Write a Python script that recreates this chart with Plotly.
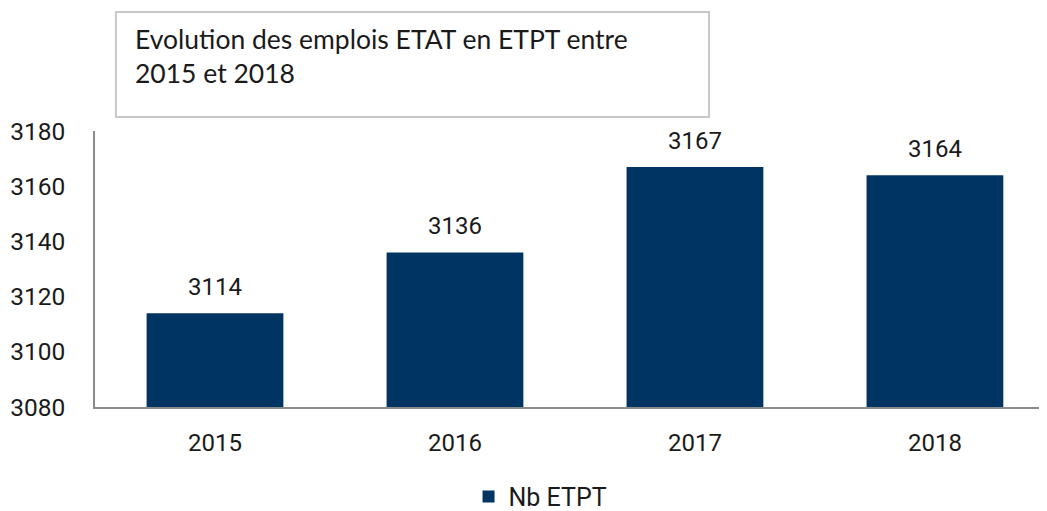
import plotly.graph_objects as go

# data
years = ["2015", "2016", "2017", "2018"]
etpt = [3114, 3136, 3167, 3164]
series_name = "Nb ETPT"
title_text = "Evolution des emplois ETAT en ETPT entre<br>2015 et 2018"

fig = go.Figure()
fig.add_bar(
    x=years, y=etpt, name=series_name,
    marker=dict(color="#003462", line=dict(width=0)),
    width=0.57,
)

# value labels above bars (category index on x)
for i, v in enumerate(etpt):
    fig.add_annotation(x=i, y=v, text=str(v), showarrow=False,
                       yanchor="bottom", yshift=10,
                       font=dict(family="Roboto", size=24, color="#1a1a1a"))

# title box text
fig.add_annotation(text=title_text, xref="paper", yref="paper",
                   x=0.040, y=1.40, xanchor="left", yanchor="top", align="left",
                   showarrow=False,
                   font=dict(family="Lato", size=26.5, weight="normal", color="#1a1a1a"))

# page body has an 8px margin, so the figure is 8px smaller
fig.update_layout(
    width=1039, height=503,
    margin=dict(l=87, r=0, t=123, b=104, autoexpand=False),
    plot_bgcolor="white", paper_bgcolor="white",
    showlegend=True,
    legend=dict(orientation="h", x=0.468, xanchor="center", y=-0.325, yanchor="middle",
                font=dict(family="Roboto", size=25, color="#1a1a1a"),
                itemwidth=30),
    xaxis=dict(type="category", range=[-0.5, 3.467], showline=True, linecolor="#8c8c8c",
               linewidth=1.5, ticks="", ticklabelstandoff=13, showgrid=False,
               tickfont=dict(family="Roboto", size=24, color="#1a1a1a")),
    yaxis=dict(range=[3080, 3180], dtick=20, showline=True, linecolor="#8c8c8c", linewidth=1.5,
               ticks="", ticklabelstandoff=23, showgrid=False, zeroline=False,
               tickfont=dict(family="Roboto", size=24.5, color="#1a1a1a")),
    shapes=[dict(type="rect", xref="paper", yref="paper",
                 x0=0.022, x1=0.645, y0=1.0507, y1=1.431,
                 line=dict(color="#c8c8c8", width=2), fillcolor="white", layer="below")],
)

fig.write_html("out.html")
